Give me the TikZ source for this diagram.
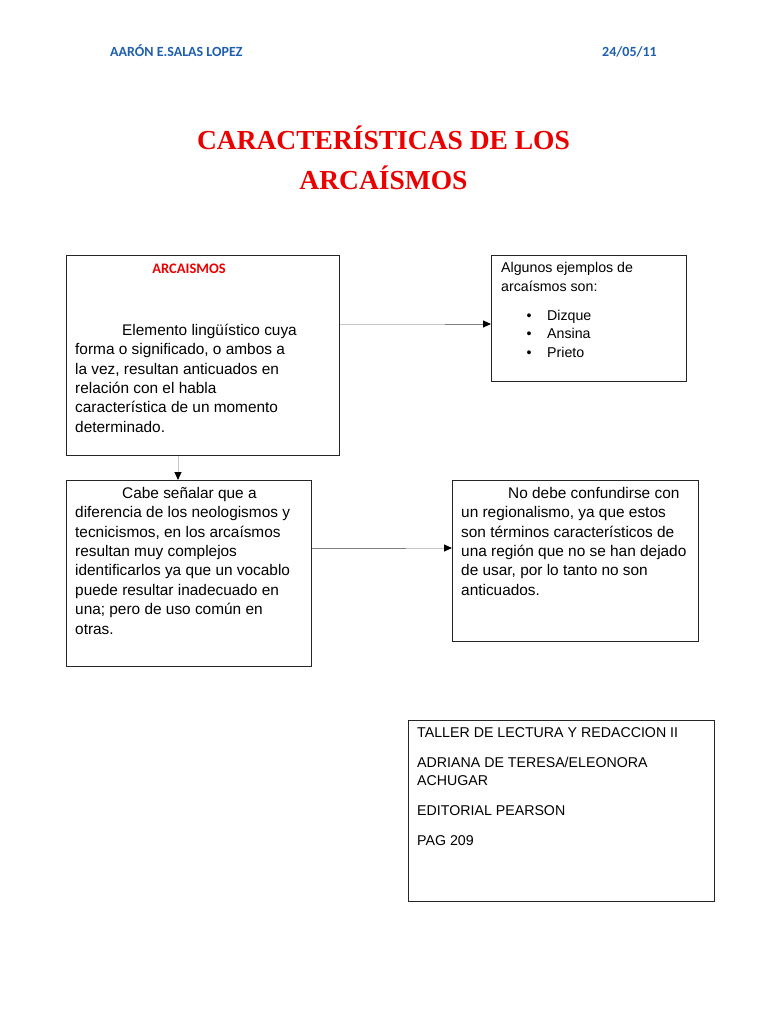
\documentclass[tikz,border=0pt]{standalone}
\usepackage{fontspec}
\setmainfont{Liberation Sans}
\newfontfamily\serifb{Liberation Serif}
\newfontfamily\calfont{Carlito}
\usetikzlibrary{arrows.meta,calc}
\definecolor{hdrblue}{RGB}{31,95,175}
\definecolor{titlered}{RGB}{235,0,0}
\begin{document}
\begin{tikzpicture}[x=1pt,y=-1pt,
  box/.style={draw=black!85, line width=0.9pt, rectangle, inner sep=0pt, anchor=north west},
  txt/.style={anchor=north west, inner sep=0pt, align=left, font=\fontsize{15.4}{19.4}\selectfont},
  smalltxt/.style={anchor=north west, inner sep=0pt, align=left, font=\fontsize{14.2}{18.6}\selectfont},
  conn/.style={draw=black!22, line width=0.9pt, -{Triangle[length=8pt,width=7pt,color=black]}},
  connd/.style={draw=black!50, line width=0.9pt},
  hdr/.style={font=\calfont\bfseries\fontsize{14}{16}\selectfont, text=hdrblue, inner sep=0pt}]
\useasboundingbox[fill=white] (0,0) rectangle (768,1024);

% header
\node[hdr, anchor=base west] (author) at (110,57) {AARÓN E.SALAS LOPEZ};
\node[hdr, anchor=base east] (date) at (657,57) {24/05/11};

% title
\node[anchor=north, inner sep=0pt, align=center, text=titlered,
      font=\serifb\bfseries\fontsize{27.5}{40}\selectfont] (title) at (383.5,126)
  {\rule{0pt}{20pt}CARACTERÍSTICAS DE LOS\\ARCAÍSMOS};

% boxes
\node[box, minimum width=273pt, minimum height=200pt] (A) at (66,255) {};
\node[box, minimum width=195pt, minimum height=126pt] (B) at (491,255) {};
\node[box, minimum width=245pt, minimum height=186pt] (C) at (66,480) {};
\node[box, minimum width=246pt, minimum height=161pt] (D) at (452,480) {};
\node[box, minimum width=306pt, minimum height=181pt] (E) at (408,720) {};

% box A
\node[anchor=base, inner sep=0pt, text=titlered, font=\calfont\bfseries\fontsize{14.5}{16}\selectfont] (Ahead) at (189,273) {ARCAISMOS};
\node[txt] (Atext) at (75,323) {\rule{0pt}{12pt}\hspace*{47pt}Elemento lingüístico cuya\\
forma o significado, o ambos a\\
la vez, resultan anticuados en\\
relación con el habla\\
característica de un momento\\
determinado.};

% box B
\node[smalltxt] (Btext) at (501,260) {\rule{0pt}{12pt}Algunos ejemplos de\\[0.4pt]
arcaísmos son:\\[10.4pt]
\hspace*{25.5pt}\makebox[20.5pt][l]{\textbullet}Dizque\\
\hspace*{25.5pt}\makebox[20.5pt][l]{\textbullet}Ansina\\
\hspace*{25.5pt}\makebox[20.5pt][l]{\textbullet}Prieto};

% box C
\node[txt] (Ctext) at (75,486) {\rule{0pt}{12pt}\hspace*{47pt}Cabe señalar que a\\
diferencia de los neologismos y\\
tecnicismos, en los arcaísmos\\
resultan muy complejos\\
identificarlos ya que un vocablo\\
puede resultar inadecuado en\\
una; pero de uso común en\\
otras.};

% box D
\node[txt] (Dtext) at (461,486) {\rule{0pt}{12pt}\hspace*{47pt}No debe confundirse con\\
un regionalismo, ya que estos\\
son términos característicos de\\
una región que no se han dejado\\
de usar, por lo tanto no son\\
anticuados.};

% box E
\node[smalltxt, font=\fontsize{14.2}{18}\selectfont] (Etext) at (417,725) {\rule{0pt}{12pt}TALLER DE LECTURA Y REDACCION II\\[12pt]
ADRIANA DE TERESA/ELEONORA\\
ACHUGAR\\[12pt]
EDITORIAL PEARSON\\[12pt]
PAG 209};

% connectors
\coordinate (ab) at (0,324);
\coordinate (ac) at (178,0);
\coordinate (cd) at (0,548);
\draw[conn] (A.east |- ab) -- (B.west |- ab);
\draw[connd] ($(B.west |- ab)+(-46,0)$) -- ($(B.west |- ab)+(-8,0)$);
\draw[conn] (A.south -| ac) -- (C.north -| ac);
\draw[conn] (C.east |- cd) -- (D.west |- cd);
\draw[connd] (C.east |- cd) -- ($(C.east |- cd)+(94,0)$);
\end{tikzpicture}
\end{document}
